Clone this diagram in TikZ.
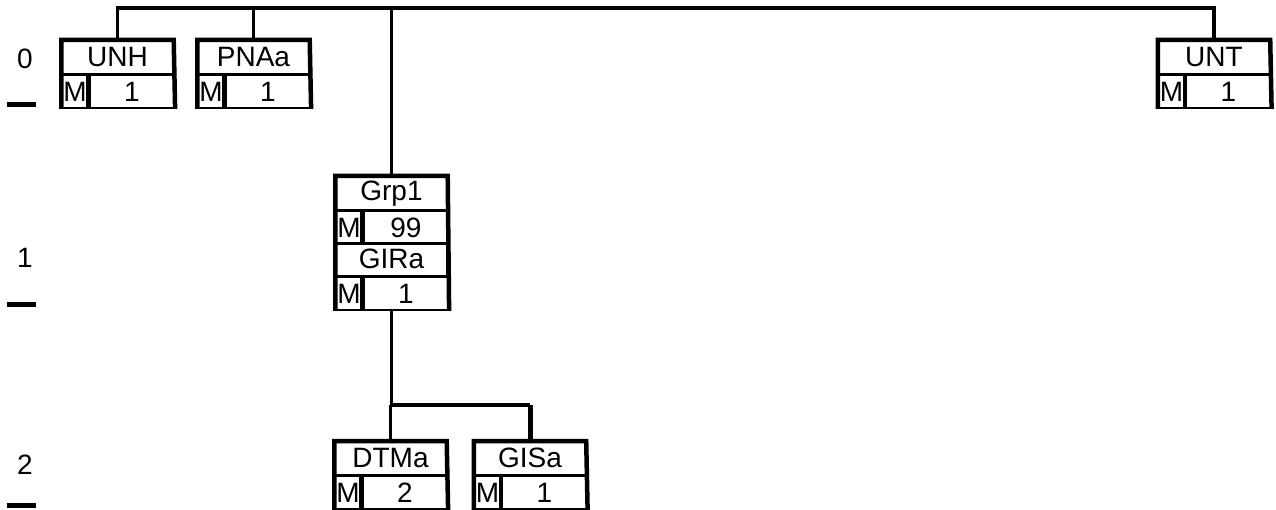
\documentclass[tikz,border=0pt]{standalone}
\usepackage{fontspec}
\setmainfont{Liberation Sans}
\usetikzlibrary{positioning,calc}

\tikzset{
  segfont/.style={font=\fontsize{28}{30}\selectfont},
  segname/.style={draw, line width=1.4pt, segfont, inner sep=0pt,
    minimum width=111pt, minimum height=33pt},
  segm/.style={draw, line width=1.4pt, segfont, inner sep=0pt,
    minimum width=26pt, minimum height=33pt},
  segval/.style={draw, line width=1.4pt, segfont, inner sep=0pt,
    minimum width=85pt, minimum height=33pt},
  segedge/.style={line width=4.5pt, line join=miter},
  link/.style={line width=3.2pt},
  levelbar/.style={line width=5pt},
}

% one segment: name, top centre, label, count
\newcommand{\segment}[4]{%
  \node[segname, anchor=north] (#1) at #2 {#3};
  \node[segm, below right=0pt of #1.south west] (#1m) {M};
  \node[segval, right=0pt of #1m] (#1v) {#4};
  \draw[segedge] (#1m.north east) -- (#1m.south east);
}
% heavy frame from top segment to bottom segment
\newcommand{\segframe}[2]{%
  \draw[segedge] (#2m.south west) -- (#1.north west) -- (#1.north east) -- (#2v.south east);
}

\begin{document}
\begin{tikzpicture}[x=1pt, y=-1pt]
  \useasboundingbox (0,0) rectangle (1276,510);

  % Levels
  \node[segfont] (lvl0) at (25,59) {0};
  \node[segfont] (lvl1) at (25,258) {1};
  \node[segfont] (lvl2) at (25,465) {2};
  \draw[levelbar] (7,105) -- (36,105);
  \draw[levelbar] (7,305) -- (36,305);
  \draw[levelbar] (7,505) -- (36,505);

  % Level 0
  \segment{unh}{(117.5,40)}{UNH}{1}
  \segframe{unh}{unh}
  \segment{pnaa}{(253.5,40)}{PNAa}{1}
  \segframe{pnaa}{pnaa}
  \segment{unt}{(1214,40)}{UNT}{1}
  \segframe{unt}{unt}

  % Level 1 (group with trigger segment)
  \segment{grp}{(391.5,176)}{Grp1}{99}
  \segment{gira}{(391.5,242)}{GIRa}{1}
  \segframe{grp}{gira}

  % Level 2
  \segment{dtma}{(390.5,441)}{DTMa}{2}
  \segframe{dtma}{dtma}
  \segment{gisa}{(530,441)}{GISa}{1}
  \segframe{gisa}{gisa}

  % Connectors
  \coordinate (bus) at (0,8);
  \coordinate (fork) at (0,405);
  \draw[link] (unh.north) -- (unh.north |- bus) -- (unt.north |- bus) -- (unt.north);
  \draw[link] (pnaa.north) -- (pnaa.north |- bus);
  \draw[link] (grp.north) -- (grp.north |- bus);
  \draw[link] (gira.south |- giram.south) -- (gira.south |- fork) -- (gisa.north |- fork);
  \draw[link] (dtma.north) -- (dtma.north |- fork);
  \draw[line width=5pt] (gisa.north) -- (gisa.north |- fork);
\end{tikzpicture}
\end{document}
